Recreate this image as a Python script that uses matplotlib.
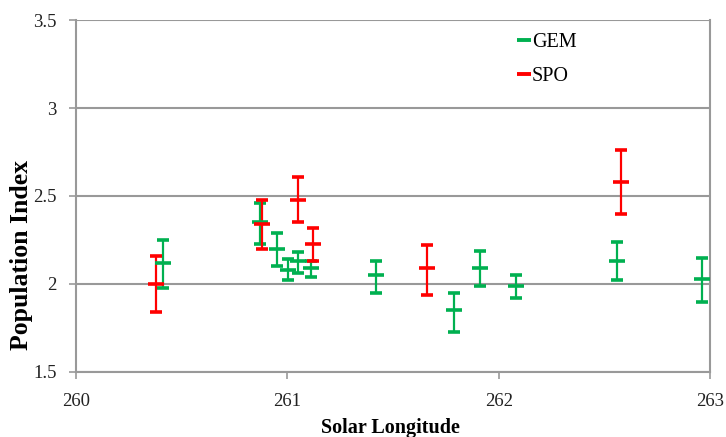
import matplotlib.pyplot as plt
from matplotlib.lines import Line2D

# GEM observations: solar longitude, population index, error bar ends
gem_x = [260.41, 260.87, 260.95, 261.005, 261.05, 261.11, 261.42, 261.79, 261.91, 262.08, 262.56, 262.96]
gem_r = [2.12, 2.35, 2.20, 2.08, 2.13, 2.09, 2.05, 1.85, 2.09, 1.99, 2.13, 2.03]
gem_hi = [2.25, 2.46, 2.29, 2.14, 2.18, 2.13, 2.13, 1.95, 2.19, 2.05, 2.24, 2.15]
gem_lo = [1.98, 2.23, 2.10, 2.02, 2.06, 2.04, 1.95, 1.73, 1.99, 1.92, 2.02, 1.90]

# SPO observations
spo_x = [260.38, 260.88, 261.05, 261.12, 261.66, 262.58]
spo_r = [2.00, 2.34, 2.48, 2.23, 2.09, 2.58]
spo_hi = [2.16, 2.48, 2.61, 2.32, 2.22, 2.76]
spo_lo = [1.84, 2.20, 2.35, 2.13, 1.94, 2.40]

x_ticks = [260, 261, 262, 263]
y_ticks = [1.5, 2, 2.5, 3, 3.5]
y_tick_labels = ["1.5", "2", "2.5", "3", "3.5"]

GREEN = "#00B050"
RED = "#FF0000"
GRID = "#999999"

plt.rcParams["font.family"] = ["Liberation Serif", "DejaVu Serif"]

fig = plt.figure(figsize=(7.26, 4.37), dpi=100)
ax = fig.add_axes([76 / 726, 1 - 372 / 437, 634 / 726, 352 / 437])


def draw_series(x, r, hi, lo, color):
    yerr = [[v - l for v, l in zip(r, lo)], [h - v for v, h in zip(r, hi)]]
    ax.errorbar(x, r, yerr=yerr, fmt="_", color=color, ecolor=color,
                elinewidth=1.6, capsize=4, capthick=1.6,
                markersize=11, markeredgewidth=2.6, zorder=3)


draw_series(gem_x, gem_r, gem_hi, gem_lo, GREEN)
draw_series(spo_x, spo_r, spo_hi, spo_lo, RED)

ax.set_xlim(260, 263)
ax.set_ylim(1.5, 3.5)
ax.set_xticks(x_ticks)
ax.set_xticklabels([str(t) for t in x_ticks])
ax.set_yticks(y_ticks)
ax.set_yticklabels(y_tick_labels)
ax.grid(axis="y", color=GRID, linewidth=1.5)
ax.grid(axis="x", visible=False)
ax.set_axisbelow(True)

for side in ["left", "bottom", "right"]:
    ax.spines[side].set_color(GRID)
    ax.spines[side].set_linewidth(1.5)
ax.spines["top"].set_visible(False)
ax.tick_params(axis="both", direction="out", length=5, width=1.2,
               color=GRID, labelsize=13.5, labelcolor="#222222")
ax.tick_params(axis="y", pad=9)
ax.tick_params(axis="x", pad=10)

# axis titles placed where the reference puts them
fig.text(390 / 726, 1 - 433 / 437, "Solar Longitude", ha="center", va="baseline",
         fontsize=14.5, fontweight="bold")
fig.text(22 / 726, 1 - 255 / 437, "Population Index", ha="center", va="center",
         rotation=90, fontsize=18.5, fontweight="bold")

handles = [
    Line2D([], [], color=GREEN, marker="_", linestyle="none", markersize=10, markeredgewidth=2.8),
    Line2D([], [], color=RED, marker="_", linestyle="none", markersize=10, markeredgewidth=2.8),
]
ax.legend(handles, ["GEM", "SPO"], loc="upper left", bbox_to_anchor=(0.668, 1.015),
          frameon=False, fontsize=14.5, handlelength=0.6, handletextpad=0.1,
          labelspacing=0.75)

fig.savefig("out.png", dpi=100)
